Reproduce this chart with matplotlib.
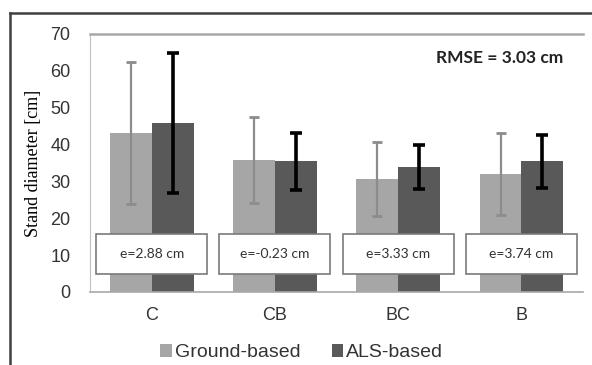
import numpy as np
import matplotlib
matplotlib.use('Agg')
import matplotlib.pyplot as plt
from matplotlib.patches import Rectangle
from matplotlib.lines import Line2D

categories = ["C", "CB", "BC", "B"]
ground_mean = [43.1, 35.8, 30.7, 32.0]
ground_err = [19.2, 11.7, 10.0, 11.2]
als_mean = [45.9, 35.4, 34.0, 35.4]
als_err = [19.0, 7.6, 6.0, 7.2]
error_labels = ["e=2.88 cm", "e=-0.23 cm", "e=3.33 cm", "e=3.74 cm"]
rmse_label = "RMSE = 3.03 cm"

fig = plt.figure(figsize=(5.92, 3.65), dpi=100)
ax = fig.add_axes([0.152, 0.2, 0.833, 0.707])

x = np.arange(len(categories))
w = 0.34
ax.bar(x - w / 2, ground_mean, w, color='#a6a6a6', label='Ground-based', zorder=2)
ax.bar(x + w / 2, als_mean, w, color='#595959', label='ALS-based', zorder=2)
ax.errorbar(x - w / 2, ground_mean, yerr=ground_err, fmt='none', ecolor='#8c8c8c',
            elinewidth=1.6, capsize=3.5, capthick=2, zorder=3)
ax.errorbar(x + w / 2, als_mean, yerr=als_err, fmt='none', ecolor='black',
            elinewidth=2.6, capsize=4, capthick=2.6, zorder=3)

# error boxes under each group
for i, lab in enumerate(error_labels):
    ax.add_patch(Rectangle((i - 0.45, 4.9), 0.9, 10.8, facecolor='white',
                           edgecolor='#7a7a7a', lw=1.2, zorder=4))
    ax.text(i, 10.3, lab, ha='center', va='center', fontsize=10,
            family='Lato', color='#333333', zorder=5)

ax.text(0.96, 0.905, rmse_label, transform=ax.transAxes, ha='right', va='center',
        fontsize=12.5, fontweight='bold', family='Lato', color='#222222')

ax.set_xlim(-0.5, 3.5)
ax.set_ylim(0, 70)
ax.set_yticks(range(0, 71, 10))
ax.set_xticks(x)
ax.set_xticklabels(categories)
ax.tick_params(length=0, labelsize=13, labelcolor='#333333')
ax.tick_params(axis='y', pad=14)
ax.tick_params(axis='x', pad=11)
for lbl in ax.get_xticklabels() + ax.get_yticklabels():
    lbl.set_family('Liberation Sans')

ax.spines['right'].set_visible(False)
ax.spines['top'].set_color('#a8a8a8')
ax.spines['top'].set_linewidth(1.8)
ax.spines['left'].set_color('#c0c0c0')
ax.spines['bottom'].set_color('#a8a8a8')
ax.spines['bottom'].set_linewidth(1.2)

ax.set_ylabel('Stand diameter [cm]', family='Liberation Serif', fontsize=13, labelpad=6)

leg = fig.legend(loc='center', bbox_to_anchor=(0.51, 0.033), ncol=2, frameon=False,
                 handlelength=0.6, handleheight=0.6, handletextpad=0.15,
                 columnspacing=1.6, prop={'family': 'Liberation Sans', 'size': 14})
for t in leg.get_texts():
    t.set_color('#333333')

# outer frame (left and top edges)
fig.add_artist(Line2D([10 / 592, 10 / 592], [0, 1 - 13 / 365], color='#404040', lw=1.8))
fig.add_artist(Line2D([10 / 592, 1], [1 - 13 / 365, 1 - 13 / 365], color='#404040', lw=1.8))

fig.savefig('out.png', dpi=100)
